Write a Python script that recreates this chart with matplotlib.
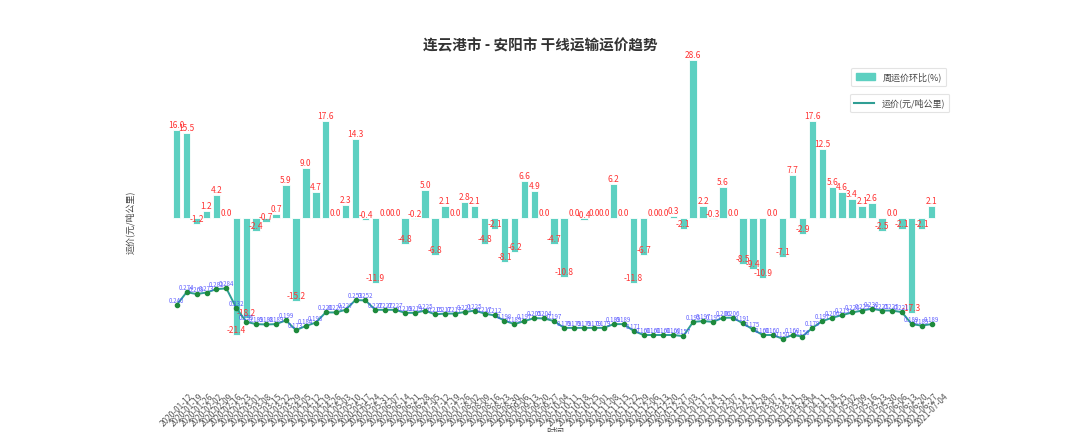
import matplotlib
matplotlib.use("Agg")
import matplotlib.pyplot as plt
from matplotlib.patches import Patch
from matplotlib.lines import Line2D

plt.rcParams['font.family'] = ['Noto Sans CJK SC', 'DejaVu Sans']
plt.rcParams['axes.unicode_minus'] = False

title = "连云港市 - 安阳市 干线运输运价趋势"

dates = [
    "2020-01-12", "2020-01-19", "2020-01-26", "2020-02-02", "2020-02-09", "2020-02-16",
    "2020-02-23", "2020-03-01", "2020-03-08", "2020-03-15", "2020-03-22", "2020-03-29",
    "2020-04-05", "2020-04-12", "2020-04-19", "2020-04-26", "2020-05-03", "2020-05-10",
    "2020-05-17", "2020-05-24", "2020-05-31", "2020-06-07", "2020-06-14", "2020-06-21",
    "2020-06-28", "2020-07-05", "2020-07-12", "2020-07-19", "2020-07-26", "2020-08-02",
    "2020-08-09", "2020-08-16", "2020-08-23", "2020-08-30", "2020-09-06", "2020-09-13",
    "2020-09-20", "2020-09-27", "2020-10-04", "2020-10-11", "2020-10-18", "2020-10-25",
    "2020-11-01", "2020-11-08", "2020-11-15", "2020-11-22", "2020-11-29", "2020-12-06",
    "2020-12-13", "2020-12-20", "2020-12-27", "2021-01-03", "2021-01-17", "2021-01-24",
    "2021-01-31", "2021-02-07", "2021-02-14", "2021-02-21", "2021-02-28", "2021-03-07",
    "2021-03-14", "2021-03-21", "2021-03-28", "2021-04-04", "2021-04-11", "2021-04-18",
    "2021-04-25", "2021-05-02", "2021-05-09", "2021-05-16", "2021-05-23", "2021-05-30",
    "2021-06-06", "2021-06-13", "2021-06-20", "2021-06-27", "2021-07-04",
]

pct_change = [
    16.0, 15.5, -1.2, 1.2, 4.2, 0.0, -21.4, -18.2, -2.4, -0.7,
    0.7, 5.9, -15.2, 9.0, 4.7, 17.6, 0.0, 2.3, 14.3, -0.4,
    -11.9, 0.0, 0.0, -4.8, -0.2, 5.0, -6.8, 2.1, 0.0, 2.8,
    2.1, -4.8, -2.1, -8.1, -6.2, 6.6, 4.9, 0.0, -4.7, -10.8,
    0.0, -0.4, 0.0, 0.0, 6.2, 0.0, -11.8, -6.7, 0.0, 0.0,
    0.3, -2.1, 28.6, 2.2, -0.3, 5.6, 0.0, -8.5, -9.4, -10.9,
    0.0, -7.1, 7.7, -2.9, 17.6, 12.5, 5.6, 4.6, 3.4, 2.1,
    2.6, -2.5, 0.0, -2.1, -17.3, -2.1, 2.1,
]

price = [
    0.240, 0.274, 0.269, 0.273, 0.282, 0.284, 0.232, 0.195, 0.189, 0.188,
    0.189, 0.199, 0.173, 0.184, 0.193, 0.220, 0.220, 0.227, 0.253, 0.252,
    0.227, 0.227, 0.227, 0.219, 0.219, 0.225, 0.215, 0.217, 0.217, 0.221,
    0.225, 0.217, 0.212, 0.198, 0.189, 0.197, 0.205, 0.204, 0.197, 0.179,
    0.179, 0.179, 0.179, 0.179, 0.189, 0.189, 0.171, 0.160, 0.160, 0.160,
    0.160, 0.157, 0.195, 0.197, 0.195, 0.206, 0.206, 0.191, 0.175, 0.160,
    0.160, 0.150, 0.160, 0.156, 0.179, 0.197, 0.206, 0.213, 0.220, 0.225,
    0.230, 0.225, 0.225, 0.221, 0.189, 0.185, 0.189,
]

bar_label = "周运价环比(%)"
line_label = "运价(元/吨公里)"
y_label = "运价(元/吨公里)"
x_label = "时间"

bar_color = "#5dd0c1"
line_color = "#2f9e94"
marker_color = "#1e8a3c"

fig = plt.figure(figsize=(10.8, 4.32), dpi=100)
ax1 = fig.add_axes([165 / 1080, 43 / 432, 780 / 1080, 334 / 432])
ax2 = ax1.twinx()

x = list(range(len(dates)))
ax1.bar(x, pct_change, width=0.75, color=bar_color, edgecolor="white", linewidth=0.6)
for xi, v in zip(x, pct_change):
    ax1.text(xi, v, f"{v:.1f}", ha="center", va="bottom", fontsize=6, color="#ff3333")

ax2.plot(x, price, color=line_color, linewidth=1.4, marker="o", markersize=3,
         markerfacecolor=marker_color, markeredgecolor=marker_color)
for xi, v in zip(x, price):
    ax2.text(xi, v, f"{v:.3f}", ha="center", va="bottom", fontsize=4.4, color="#4444ff", alpha=0.85)

ax1.set_xlim(-1.18, 77.35)
ax1.set_ylim(-31.15, 29.6)
ax2.set_ylim(0.0164, 0.9048)

for ax in (ax1, ax2):
    for s in ax.spines.values():
        s.set_visible(False)
    ax.tick_params(length=0)
ax1.set_yticks([])
ax2.set_yticks([])
ax1.set_xticks(x)
ax1.set_xticklabels(dates, rotation=45, fontsize=6, color="#555555")
ax1.tick_params(axis="x", pad=2)

ax1.set_ylabel(y_label, fontsize=6.5, color="#444444", labelpad=22)
ax1.set_xlabel(x_label, fontsize=6.5, color="#444444", labelpad=0)

fig.suptitle(title, x=0.5, y=0.915, fontsize=10.5, color="#333333", fontweight="bold")

leg1 = fig.legend(handles=[Patch(facecolor=bar_color, edgecolor=bar_color)], labels=[bar_label],
                  loc="upper right", bbox_to_anchor=(951 / 1080, 1 - 63 / 432), fontsize=6.5,
                  frameon=True, handlelength=2.2, handleheight=0.8, borderpad=0.5)
leg2 = fig.legend(handles=[Line2D([0], [0], color=line_color, linewidth=1.5)], labels=[line_label],
                  loc="upper right", bbox_to_anchor=(954 / 1080, 1 - 89 / 432), fontsize=6.5,
                  frameon=True, handlelength=2.2, borderpad=0.5)
for leg in (leg1, leg2):
    leg.get_frame().set_edgecolor("#dddddd")
    leg.get_frame().set_linewidth(0.8)
    for t in leg.get_texts():
        t.set_color("#444444")

fig.savefig("out.png", dpi=100)
